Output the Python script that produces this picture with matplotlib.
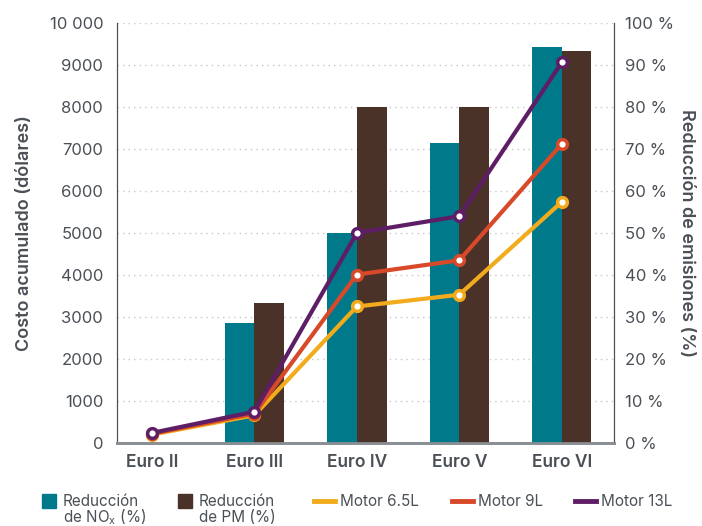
import numpy as np
import matplotlib.pyplot as plt
from matplotlib.ticker import FixedLocator
from matplotlib.lines import Line2D
from matplotlib.patches import Rectangle

plt.rcParams['font.family'] = ['Inter', 'DejaVu Sans']

# DATA
stages = ['Euro II', 'Euro III', 'Euro IV', 'Euro V', 'Euro VI']
nox_reduction = [0, 28.6, 50.0, 71.4, 94.3]      # %
pm_reduction = [0, 33.3, 80.0, 80.0, 93.3]       # %
cost_65 = [200, 660, 3250, 3530, 5740]           # dólares
cost_9 = [220, 700, 4010, 4350, 7120]
cost_13 = [240, 745, 5000, 5400, 9060]

left_ticks = [0, 1000, 2000, 3000, 4000, 5000, 6000, 7000, 8000, 9000, 10000]
left_labels = ['0', '1000', '2000', '3000', '4000', '5000', '6000', '7000', '8000', '9000', '10 000']
right_ticks = list(range(0, 101, 10))
right_labels = [f'{t} %' for t in right_ticks]

# COLORS
TEAL = '#007a8a'
BROWN = '#4a3228'
ORANGE = '#f2ab1c'
RED = '#d8492a'
PURPLE = '#5e1e66'
TXT = '#4b5057'

W, H = 702, 526
fig = plt.figure(figsize=(W / 100, H / 100), dpi=100)
ax = fig.add_axes([0.1667, 0.1578, 0.708, 0.7985])
ax2 = ax.twinx()
ax.set_zorder(ax2.get_zorder() + 1)
ax.patch.set_visible(False)

x = np.arange(len(stages))
w = 0.29

# bars on the percentage axis
ax2.bar(x - w / 2, nox_reduction, width=w, color=TEAL, zorder=3)
ax2.bar(x + w / 2, pm_reduction, width=w, color=BROWN, zorder=3)
ax2.set_ylim(0, 100)
ax2.yaxis.set_major_locator(FixedLocator(right_ticks))
ax2.set_yticklabels(right_labels)
ax2.grid(axis='y', linestyle=(0, (1, 3)), color='#c8c8c8', linewidth=1, zorder=0)
ax2.set_axisbelow(True)

# lines on the cost axis
series = [(cost_65, ORANGE, 'Motor 6.5L'), (cost_9, RED, 'Motor 9L'), (cost_13, PURPLE, 'Motor 13L')]
for vals, col, lab in series:
    ax.plot(x, vals, color=col, linewidth=3, marker='o', markersize=7,
            markerfacecolor='white', markeredgecolor=col, markeredgewidth=2.5)

ax.set_ylim(0, 10000)
ax.set_xlim(-0.34, 4.51)
ax.yaxis.set_major_locator(FixedLocator(left_ticks))
ax.set_yticklabels(left_labels)
ax.set_xticks(x)
ax.set_xticklabels(stages, fontweight='semibold')

for a in (ax, ax2):
    a.spines['top'].set_visible(False)
    a.spines['left'].set_color('#4b5057')
    a.spines['right'].set_color('#4b5057')
    a.spines['bottom'].set_color('#8a8f94')
    a.spines['bottom'].set_linewidth(2)
    a.tick_params(length=0, labelsize=12, colors=TXT)
ax.tick_params(axis='x', labelsize=12.5, pad=8)
ax.tick_params(axis='y', pad=10)
ax2.tick_params(axis='y', pad=8)

ax.set_ylabel('Costo acumulado (dólares)', fontsize=13, fontweight='semibold', color=TXT, labelpad=12)
ax2.set_ylabel('Reducción de emisiones (%)', fontsize=13, fontweight='semibold', color=TXT,
               rotation=-90, labelpad=15)

# legend, laid out by hand so the handles line up with the first text line
def fx(px):
    return px / W

def fy(px):
    return 1 - px / H

legend_boxes = [(42, TEAL, 'Reducción', 'de NO$_\\mathregular{x}$ (%)'),
                (178, BROWN, 'Reducción', 'de PM (%)')]
for px, col, l1, l2 in legend_boxes:
    fig.patches.append(Rectangle((fx(px), fy(508)), fx(14), 14 / H, color=col,
                                 transform=fig.transFigure, figure=fig))
    fig.text(fx(px + 21), fy(501), l1, fontsize=11, color=TXT, va='center')
    fig.text(fx(px + 21), fy(517), l2, fontsize=11, color=TXT, va='center')

legend_lines = [314, 452, 575]
for px, (_, col, lab) in zip(legend_lines, series):
    fig.add_artist(Line2D([fx(px), fx(px + 21)], [fy(501), fy(501)], color=col, linewidth=3.5,
                          transform=fig.transFigure))
    fig.text(fx(px + 26), fy(501), lab, fontsize=11, color=TXT, va='center')

fig.savefig('out.png', dpi=100)
